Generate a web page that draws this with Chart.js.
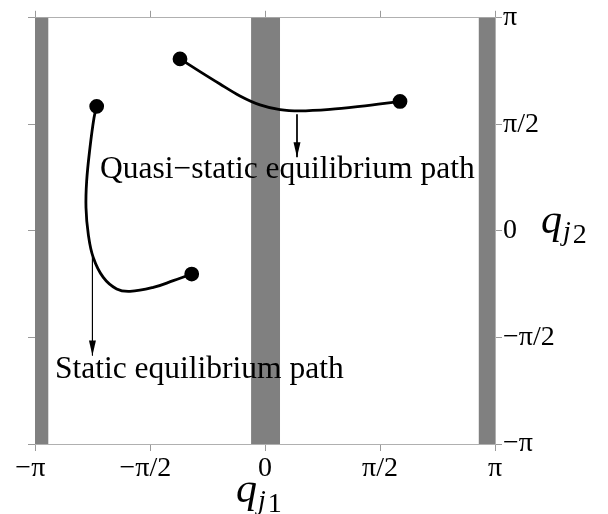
<!DOCTYPE html>
<html>
<head>
<meta charset="utf-8">
<script src="https://cdn.jsdelivr.net/npm/chart.js@4"></script>
<style>
  body { margin: 0; background: #fff; }
  canvas { display: block; }
</style>
</head>
<body>
<canvas id="grafico" width="608" height="514"></canvas>
<script>
// ticks (los mismos en los dos ejes)
const tickValues = [-Math.PI, -Math.PI / 2, 0, Math.PI / 2, Math.PI];
const tickLabels = ['−π', '−π/2', '0', 'π/2', 'π'];

// franjas grises (en q_j1)
const bandFrom = [-3.1416, -0.19, 2.92];
const bandTo = [-2.96, 0.205, 3.1416];

// camino cuasi-estatico
const quasiX = [-1.161, -0.888, -0.615, -0.342, -0.068, 0.205, 0.478, 0.888, 1.298, 1.844];
const quasiY = [2.536, 2.349, 2.166, 1.990, 1.858, 1.787, 1.769, 1.791, 1.836, 1.909];

// camino estatico
const staticX = [-2.299, -2.336, -2.391, -2.436, -2.445, -2.414, -2.346, -2.209, -2.026, -1.844, -1.526, -1.253, -1.001];
const staticY = [1.836, 1.664, 1.223, 0.734, 0.342, -0.048, -0.392, -0.686, -0.856, -0.891, -0.833, -0.734, -0.636];

// flechas (inicio -> punta)
const arrowQuasiX = [0.437, 0.437];
const arrowQuasiY = [1.718, 1.087];
const arrowStaticX = [-2.357, -2.357];
const arrowStaticY = [-0.392, -1.836];

// textos
const labelTexts = ['Quasi−static equilibrium path', 'Static equilibrium path'];
const labelX = [-2.254, -2.869];
const labelY = [0.778, -2.173];

const serif = '"Liberation Serif", "DejaVu Serif", serif';

function puntos(xs, ys) {
  return xs.map((x, i) => ({ x: x, y: ys[i] }));
}

function soloExtremos(n) {
  return Array.from({ length: n }, (_, i) => (i === 0 || i === n - 1) ? 6 : 0);
}

const franjas = {
  id: 'franjas',
  beforeDatasetsDraw(chart) {
    const { ctx, scales } = chart;
    const x = scales.x, y = scales.y;
    ctx.save();
    ctx.fillStyle = '#808080';
    for (let i = 0; i < bandFrom.length; i++) {
      const x0 = x.getPixelForValue(bandFrom[i]);
      const x1 = x.getPixelForValue(bandTo[i]);
      const top = y.getPixelForValue(Math.PI);
      const bot = y.getPixelForValue(-Math.PI);
      ctx.fillRect(x0, top, x1 - x0, bot - top);
    }
    ctx.restore();
  }
};

function escribirQ(ctx, x, y, num) {
  ctx.font = 'italic 42px ' + serif;
  ctx.fillText('q', x, y);
  let w = ctx.measureText('q').width;
  ctx.font = 'italic 28px ' + serif;
  ctx.fillText('j', x + w + 1, y + 7);
  let w2 = ctx.measureText('j').width;
  ctx.font = '28px ' + serif;
  ctx.fillText(num, x + w + w2 + 3, y + 10);
}

const textos = {
  id: 'textos',
  afterDatasetsDraw(chart) {
    const { ctx, scales } = chart;
    ctx.save();
    ctx.fillStyle = '#000';
    ctx.textBaseline = 'alphabetic';
    ctx.textAlign = 'left';
    ctx.font = '31.5px ' + serif;
    for (let i = 0; i < labelTexts.length; i++) {
      ctx.fillText(labelTexts[i], scales.x.getPixelForValue(labelX[i]), scales.y.getPixelForValue(labelY[i]));
    }
    // puntas de flecha
    chart.data.datasets.forEach((ds, i) => {
      if (!ds.flecha) return;
      const pts = chart.getDatasetMeta(i).data;
      const a = pts[0], b = pts[pts.length - 1];
      const ang = Math.atan2(b.y - a.y, b.x - a.x);
      const len = 15, half = 3.5;
      ctx.beginPath();
      ctx.moveTo(b.x, b.y);
      ctx.lineTo(b.x - len * Math.cos(ang) + half * Math.sin(ang), b.y - len * Math.sin(ang) - half * Math.cos(ang));
      ctx.lineTo(b.x - len * Math.cos(ang) - half * Math.sin(ang), b.y - len * Math.sin(ang) + half * Math.cos(ang));
      ctx.closePath();
      ctx.fill();
    });
    // titulos de ejes
    escribirQ(ctx, 236, 502, '1');
    escribirQ(ctx, 541, 233, '2');
    ctx.restore();
  }
};

function ejeBase(pos, tamaño, conTexto) {
  const horizontal = pos === 'top' || pos === 'bottom';
  return {
    type: 'linear',
    position: pos,
    min: -Math.PI,
    max: Math.PI,
    afterBuildTicks: s => { s.ticks = tickValues.map(v => ({ value: v })); },
    afterFit: s => {
      if (horizontal) s.height = tamaño; else s.width = tamaño;
    },
    border: { display: true, color: '#b0b0b0', width: 1 },
    grid: { drawOnChartArea: false, drawTicks: true, tickLength: 7, color: '#9a9a9a' },
    ticks: {
      display: conTexto,
      padding: 1,
      color: '#000',
      font: { family: serif, size: 28 },
      // en el eje inferior las etiquetas negativas quedan corridas a la izquierda
      callback: (v, i) => (horizontal && tickLabels[i].startsWith('−')) ? tickLabels[i] + '\u2004' : tickLabels[i]
    }
  };
}

const lineaNegra = {
  borderColor: '#000',
  backgroundColor: '#000',
  showLine: true,
  fill: false
};

new Chart(document.getElementById('grafico').getContext('2d'), {
  type: 'scatter',
  data: {
    datasets: [
      Object.assign({}, lineaNegra, {
        label: 'Quasi-static equilibrium path',
        data: puntos(quasiX, quasiY),
        borderWidth: 2.8,
        cubicInterpolationMode: 'monotone',
        pointRadius: soloExtremos(quasiX.length)
      }),
      Object.assign({}, lineaNegra, {
        label: 'Static equilibrium path',
        data: puntos(staticX, staticY),
        borderWidth: 2.8,
        tension: 0.4,
        pointRadius: soloExtremos(staticX.length)
      }),
      Object.assign({}, lineaNegra, {
        label: 'flecha 1',
        data: puntos(arrowQuasiX, arrowQuasiY),
        borderWidth: 1,
        pointRadius: 0,
        flecha: true
      }),
      Object.assign({}, lineaNegra, {
        label: 'flecha 2',
        data: puntos(arrowStaticX, arrowStaticY),
        borderWidth: 1,
        pointRadius: 0,
        flecha: true
      })
    ]
  },
  options: {
    responsive: false,
    animation: false,
    layout: { padding: 0 },
    plugins: { legend: { display: false }, tooltip: { enabled: false } },
    scales: {
      x: ejeBase('bottom', 70, true),
      x2: ejeBase('top', 16, false),
      y: ejeBase('right', 113, true),
      y2: ejeBase('left', 35, false)
    }
  },
  plugins: [franjas, textos]
});
</script>
</body>
</html>
